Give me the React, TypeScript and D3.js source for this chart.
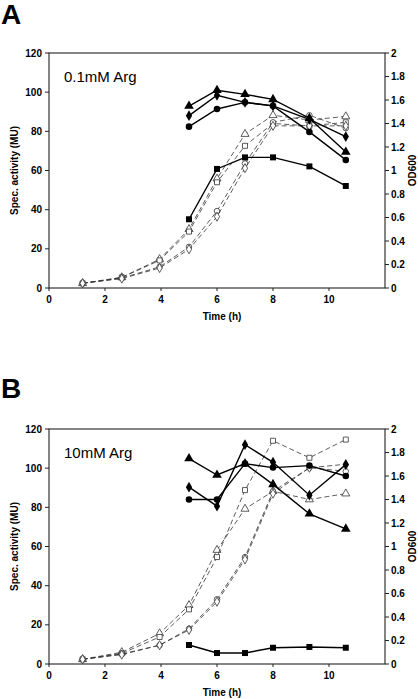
import React from "react";
import * as d3 from "d3";

// ---- data ----
const odTimes = [1.2, 2.6, 3.95, 5, 6, 7, 8, 9.3, 10.6];
const actTimes = [5, 6, 7, 8, 9.3, 10.6];
const xTicks = [0, 2, 4, 6, 8, 10];
const leftTicks = [0, 20, 40, 60, 80, 100, 120];
const rightTicks = [0, 0.2, 0.4, 0.6, 0.8, 1, 1.2, 1.4, 1.6, 1.8, 2];

// Panel A (0.1mM Arg) – specific activity (MU)
const actTriA = [92.9, 101, 98.9, 96.3, 86.7, 69.4];
const actDiaA = [88, 98.4, 94.8, 93, 86.1, 77.3];
const actCirA = [82.4, 91.4, 94.8, 93, 79.7, 65.4];
const actSqA = [35.1, 60.8, 66.7, 66.7, 62.1, 52.1];
// Panel A – OD600
const odTriA = [0.04, 0.09, 0.245, 0.5, 0.93, 1.31, 1.47, 1.43, 1.46];
const odSqA = [0.04, 0.09, 0.235, 0.48, 0.9, 1.21, 1.4, 1.38, 1.41];
const odCirA = [0.04, 0.085, 0.18, 0.35, 0.655, 1.06, 1.41, 1.47, 1.36];
const odDiaA = [0.04, 0.08, 0.17, 0.33, 0.607, 1.02, 1.38, 1.38, 1.38];

// Panel B (10mM Arg) – specific activity (MU)
const actTriB = [104.9, 96.5, 102.3, 91.7, 76.7, 69];
const actDiaB = [90.3, 80.6, 112, 103, 86.2, 101.8];
const actCirB = [84, 84, 102.3, 100.3, 101.3, 96];
const actSqB = [9.7, 5.6, 5.6, 8.3, 8.7, 8.3];
// Panel B – OD600
const odTriB = [0.04, 0.1, 0.26, 0.5, 0.97, 1.32, 1.47, 1.4, 1.45];
const odSqB = [0.04, 0.09, 0.23, 0.465, 0.91, 1.48, 1.9, 1.755, 1.91];
const odCirB = [0.04, 0.085, 0.16, 0.3, 0.55, 0.91, 1.47, 1.67, 1.64];
const odDiaB = [0.04, 0.08, 0.16, 0.29, 0.53, 0.89, 1.45, 1.67, 1.7];

type Shape = "triangle" | "square" | "circle" | "diamond";

const symbolFor: Record<Shape, any> = {
  triangle: d3.symbolTriangle,
  square: d3.symbolSquare,
  circle: d3.symbolCircle,
  diamond: d3.symbolDiamond,
};
const sizeFor: Record<Shape, number> = {
  triangle: 40,
  square: 36,
  circle: 34,
  diamond: 34,
};

const FONT = "'Liberation Sans', Arial, sans-serif";

interface PanelProps {
  top: number;
  letter: string;
  letterY: number;
  note: string;
  act: { shape: Shape; values: number[] }[];
  od: { shape: Shape; values: number[] }[];
}

function Panel({ top, letter, letterY, note, act, od }: PanelProps) {
  const left = 49;
  const right = 385;
  const height = 235;
  const bottom = top + height;
  const x = d3.scaleLinear().domain([0, 12]).range([left, right]);
  const yL = d3.scaleLinear().domain([0, 120]).range([bottom, top]);
  const yR = d3.scaleLinear().domain([0, 2]).range([bottom, top]);

  const lineL = d3
    .line<[number, number]>()
    .x((d) => x(d[0]))
    .y((d) => yL(d[1]));
  const lineR = d3
    .line<[number, number]>()
    .x((d) => x(d[0]))
    .y((d) => yR(d[1]));

  const sym = (shape: Shape) => d3.symbol().type(symbolFor[shape]).size(sizeFor[shape])() as string;
  const symOpen = (shape: Shape) =>
    d3.symbol().type(symbolFor[shape]).size(sizeFor[shape] * 0.7)() as string;

  return (
    <g>
      <text x={1} y={letterY} fontFamily={FONT} fontWeight="bold" fontSize={28} fill="#000">
        {letter}
      </text>
      {od.map((s, i) => {
        const pts = odTimes.map((t, j) => [t, s.values[j]] as [number, number]);
        return (
          <g key={"od" + i}>
            <path d={lineR(pts) as string} fill="none" stroke="#333" strokeWidth={0.8} strokeDasharray="5,3" />
            {pts.map((p, j) => (
              <path
                key={j}
                d={symOpen(s.shape)}
                transform={`translate(${x(p[0])},${yR(p[1])})`}
                fill="#fff"
                stroke="#333"
                strokeWidth={0.8}
              />
            ))}
          </g>
        );
      })}
      {act.map((s, i) => {
        const pts = actTimes.map((t, j) => [t, s.values[j]] as [number, number]);
        return (
          <g key={"act" + i}>
            <path d={lineL(pts) as string} fill="none" stroke="#000" strokeWidth={1.4} />
            {pts.map((p, j) => (
              <path key={j} d={sym(s.shape)} transform={`translate(${x(p[0])},${yL(p[1])})`} fill="#000" />
            ))}
          </g>
        );
      })}
      <rect x={left} y={top} width={right - left} height={height} fill="none" stroke="#222" strokeWidth={1.1} />
      {leftTicks.map((t) => (
        <g key={"l" + t}>
          <line x1={left - 4} x2={left} y1={yL(t)} y2={yL(t)} stroke="#222" strokeWidth={1} />
          <text
            x={left - 7}
            y={yL(t)}
            dy="0.35em"
            textAnchor="end"
            fontFamily={FONT}
            fontWeight="bold"
            fontSize={10}
            fill="#000"
          >
            {t}
          </text>
        </g>
      ))}
      {rightTicks.map((t) => (
        <g key={"r" + t}>
          <line x1={right} x2={right + 4} y1={yR(t)} y2={yR(t)} stroke="#222" strokeWidth={1} />
          <text
            x={right + 6}
            y={yR(t)}
            dy="0.35em"
            textAnchor="start"
            fontFamily={FONT}
            fontWeight="bold"
            fontSize={10}
            fill="#000"
          >
            {d3.format("~g")(t)}
          </text>
        </g>
      ))}
      {xTicks.map((t) => (
        <g key={"x" + t}>
          <line x1={x(t)} x2={x(t)} y1={bottom} y2={bottom + 3} stroke="#222" strokeWidth={1} />
          <text
            x={x(t)}
            y={bottom + 15}
            textAnchor="middle"
            fontFamily={FONT}
            fontWeight="bold"
            fontSize={10}
            fill="#000"
          >
            {t}
          </text>
        </g>
      ))}
      <text
        x={(x(0) + x(12)) / 2 + 5}
        y={bottom + 32}
        textAnchor="middle"
        fontFamily={FONT}
        fontWeight="bold"
        fontSize={10}
        fill="#000"
      >
        Time (h)
      </text>
      <text
        transform={`translate(18,${(top + bottom) / 2}) rotate(-90)`}
        textAnchor="middle"
        fontFamily={FONT}
        fontWeight="bold"
        fontSize={10}
        fill="#000"
      >
        Spec. activity (MU)
      </text>
      <text
        transform={`translate(416,${(top + bottom) / 2}) rotate(-90)`}
        textAnchor="middle"
        fontFamily={FONT}
        fontWeight="bold"
        fontSize={10}
        fill="#000"
      >
        OD600
      </text>
      <text x={64} y={top + 29} fontFamily={FONT} fontSize={15} fill="#000">
        {note}
      </text>
    </g>
  );
}

export default function App() {
  return (
    <svg
      width={418}
      height={699}
      style={{ position: "absolute", left: 0, top: 0, background: "#fff" }}
    >
      <rect width={418} height={699} fill="#fff" />
      <Panel
        top={53}
        letter="A"
        letterY={24}
        note="0.1mM Arg"
        act={[
          { shape: "triangle", values: actTriA },
          { shape: "diamond", values: actDiaA },
          { shape: "circle", values: actCirA },
          { shape: "square", values: actSqA },
        ]}
        od={[
          { shape: "triangle", values: odTriA },
          { shape: "square", values: odSqA },
          { shape: "circle", values: odCirA },
          { shape: "diamond", values: odDiaA },
        ]}
      />
      <Panel
        top={429}
        letter="B"
        letterY={398}
        note="10mM Arg"
        act={[
          { shape: "triangle", values: actTriB },
          { shape: "diamond", values: actDiaB },
          { shape: "circle", values: actCirB },
          { shape: "square", values: actSqB },
        ]}
        od={[
          { shape: "triangle", values: odTriB },
          { shape: "square", values: odSqB },
          { shape: "circle", values: odCirB },
          { shape: "diamond", values: odDiaB },
        ]}
      />
    </svg>
  );
}
